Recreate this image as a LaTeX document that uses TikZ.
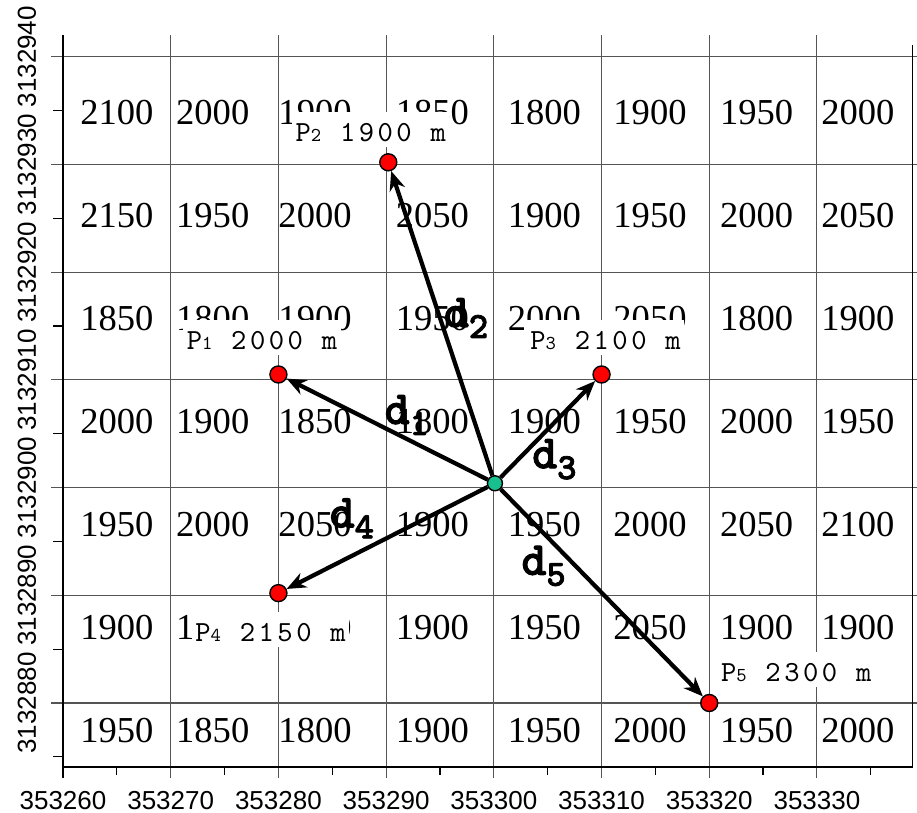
\documentclass[tikz,border=0pt]{standalone}
\usepackage{fontspec}
\setmainfont{Liberation Serif}
\setsansfont{Liberation Sans}
\newfontfamily\pmono{lmmono10-regular}[Extension=.otf,LetterSpace=12]
\newfontfamily\dmono{lmmonolt10-bold}[Extension=.otf,FakeBold=2]
\usetikzlibrary{arrows.meta}
\definecolor{ptred}{HTML}{FF0000}
\definecolor{ctgreen}{HTML}{19C08F}
\definecolor{gridgrey}{HTML}{555555}
\newcommand\plbl[2]{P{\fontsize{5.6}{6}\selectfont#1} #2 m}
\newcommand\dlbl[1]{d\raisebox{-3.1pt}{\fontsize{10.5}{11}\selectfont#1}}
\tikzset{
  gline/.style={draw=gridgrey,line width=0.3pt},
  axline/.style={draw=black,line width=0.35pt},
  cellval/.style={font=\fontsize{10.4}{12}\selectfont,inner sep=0pt},
  axlab/.style={font=\sffamily\fontsize{7.4}{9}\selectfont,inner sep=0pt},
  plab/.style={font=\pmono\fontsize{8.3}{9}\selectfont,fill=white,anchor=base west,
               inner xsep=1pt,inner ysep=0pt,text height=8.5pt,text depth=1.5pt},
  dlab/.style={font=\dmono\fontsize{13.5}{14}\selectfont,inner sep=0pt,anchor=base west},
  station/.style={circle,draw=black,line width=0.4pt,fill=ptred,minimum size=0.17cm,inner sep=0pt},
  obs/.style={circle,draw=black,line width=0.4pt,fill=ctgreen,minimum size=0.15cm,inner sep=0pt},
  arw/.style={-{Stealth[length=5.5pt,width=4.5pt]},line width=1.2pt},
}
\begin{document}
\begin{tikzpicture}[x=1.077cm,y=1.077cm]
  \useasboundingbox (-0.585,-1.021) rectangle (7.929,6.527);
  % grid, frame and ticks
  \foreach \j in {0,...,6} \draw[gline] (-0.11,\j) -- (7.93,\j);
  \foreach \i in {1,...,7} \draw[gline] (\i,6.20) -- (\i,-0.70);
  \draw[axline] (0,6.20) -- (0,-0.70);
  \draw[axline] (0,-0.594) -- (7.89,-0.594) -- (7.89,6.11);
  \foreach \i in {0.5,1.5,...,7.5} \draw[axline] (\i,-0.594) -- (\i,-0.668);
  \foreach \j in {-0.5,0.5,...,5.5} \draw[axline] (0,\j) -- (-0.093,\j);
  \foreach \i/\e in {0/353260,1/353270,2/353280,3/353290,4/353300,5/353310,6/353320,7/353330}
    \node[axlab] (ex\i) at (\i,-0.91) {\e};
  \foreach \j/\n in {0/3132880,1/3132890,2/3132900,3/3132910,4/3132920,5/3132930,6/3132940}
    \node[axlab,rotate=90] (ny\j) at (-0.334,\j) {\n};
  % elevation values
  \foreach \vals [count=\r] in {{2100,2000,1900,1850,1800,1900,1950,2000},
      {2150,1950,2000,2050,1900,1950,2000,2050},
      {1850,1800,1900,1950,2000,2050,1800,1900},
      {2000,1900,1850,1800,1900,1950,2000,1950},
      {1950,2000,2050,1900,1950,2000,2050,2100},
      {1900,1950,2000,1900,1950,2050,1900,1900},
      {1950,1850,1800,1900,1950,2000,1950,2000}} {
    \foreach \v [count=\c] in \vals {
      \pgfmathsetmacro\cx{{0.50,1.39,2.34,3.43,4.47,5.45,6.44,7.38}[\c-1]}
      \node[cellval] (v\r\c) at (\cx,{5.48-0.956*(\r-1)}) {\v};
    }
  }
  % stations
  \node[plab] (lp1) at (1.11,3.28) {\plbl{1}{2000}};
  \node[plab] (lp2) at (2.12,5.21) {\plbl{2}{1900}};
  \node[plab] (lp3) at (4.30,3.28) {\plbl{3}{2100}};
  \node[plab] (lp4) at (1.19,0.57) {\plbl{4}{2150}};
  \node[plab] (lp5) at (6.07,0.20) {\plbl{5}{2300}};
  \node[obs] (c) at (4.01,2.04) {};
  \node[station] (p1) at (2,3.05) {};
  \node[station] (p2) at (3.02,5.02) {};
  \node[station] (p3) at (5,3.05) {};
  \node[station] (p4) at (2,1.02) {};
  \node[station] (p5) at (6,0) {};
  \foreach \k in {1,...,5} \draw[arw] (c) -- (p\k);
  \node[dlab] (d1) at (2.98,2.59) {\dlbl{1}};
  \node[dlab] (d2) at (3.53,3.49) {\dlbl{2}};
  \node[dlab] (d3) at (4.35,2.18) {\dlbl{3}};
  \node[dlab] (d4) at (2.47,1.63) {\dlbl{4}};
  \node[dlab] (d5) at (4.25,1.19) {\dlbl{5}};
\end{tikzpicture}
\end{document}
